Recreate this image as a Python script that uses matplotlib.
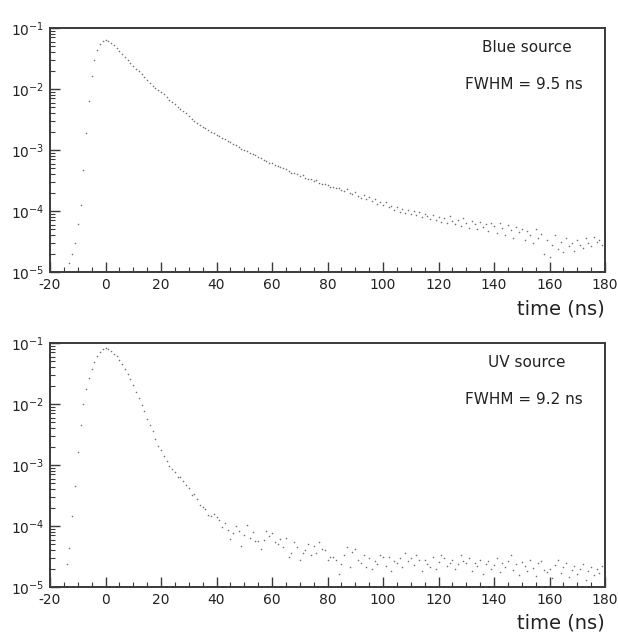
import numpy as np
import matplotlib
matplotlib.use("Agg")
import matplotlib.pyplot as plt
from matplotlib.ticker import MultipleLocator, LogLocator

plt.rcParams['font.family'] = ['DejaVu Sans']
plt.rcParams['axes.unicode_minus'] = False

# time bins (ns), 1 ns wide
t_blue = np.arange(-13, 181)
t_uv = np.arange(-14, 181)

# log10 of the normalised counts
logy_blue = [
    -4.85, -4.70, -4.52, -4.22, -3.90, -3.32, -2.72, -2.20, -1.79, -1.52,
    -1.36, -1.26, -1.21, -1.20, -1.21, -1.24, -1.28, -1.33, -1.37, -1.42,
    -1.48, -1.53, -1.57, -1.62, -1.67, -1.71, -1.76, -1.80, -1.86, -1.90,
    -1.95, -1.99, -2.02, -2.05, -2.08, -2.13, -2.18, -2.22, -2.25, -2.29,
    -2.33, -2.36, -2.40, -2.45, -2.49, -2.52, -2.55, -2.59, -2.62, -2.64,
    -2.67, -2.70, -2.72, -2.75, -2.77, -2.80, -2.82, -2.85, -2.87, -2.90,
    -2.92, -2.95, -2.98, -3.00, -3.01, -3.05, -3.07, -3.09, -3.12, -3.13,
    -3.16, -3.18, -3.21, -3.22, -3.24, -3.27, -3.28, -3.30, -3.31, -3.34,
    -3.37, -3.38, -3.40, -3.43, -3.41, -3.46, -3.48, -3.47, -3.51, -3.49,
    -3.54, -3.56, -3.55, -3.58, -3.61, -3.60, -3.63, -3.62, -3.66, -3.68,
    -3.64, -3.70, -3.72, -3.69, -3.75, -3.79, -3.74, -3.80, -3.77, -3.84,
    -3.81, -3.88, -3.86, -3.90, -3.85, -3.94, -3.91, -3.98, -3.93, -4.01,
    -3.96, -4.03, -3.99, -4.05, -4.00, -4.07, -4.02, -4.10, -4.05, -4.08,
    -4.13, -4.06, -4.15, -4.10, -4.18, -4.12, -4.20, -4.09, -4.16, -4.22,
    -4.14, -4.25, -4.12, -4.19, -4.28, -4.16, -4.22, -4.30, -4.18, -4.26,
    -4.21, -4.33, -4.19, -4.24, -4.36, -4.20, -4.28, -4.40, -4.23, -4.31,
    -4.45, -4.27, -4.35, -4.29, -4.48, -4.33, -4.40, -4.52, -4.30, -4.44,
    -4.38, -4.70, -4.47, -4.75, -4.55, -4.40, -4.62, -4.50, -4.68, -4.45,
    -4.58, -4.52, -4.65, -4.48, -4.56, -4.60, -4.45, -4.53, -4.58, -4.42,
    -4.50, -4.47, -4.55, -4.44,
]

logy_uv = [
    -4.62, -4.36, -3.83, -3.34, -2.78, -2.34, -2.00, -1.76, -1.57, -1.42,
    -1.31, -1.21, -1.15, -1.10, -1.09, -1.10, -1.13, -1.18, -1.22, -1.28,
    -1.35, -1.43, -1.50, -1.59, -1.69, -1.80, -1.90, -2.02, -2.12, -2.24,
    -2.34, -2.45, -2.57, -2.69, -2.76, -2.86, -2.94, -3.01, -3.06, -3.12,
    -3.19, -3.20, -3.26, -3.33, -3.38, -3.49, -3.47, -3.55, -3.66, -3.69,
    -3.72, -3.82, -3.84, -3.80, -3.85, -3.90, -4.01, -3.95, -4.06, -4.22,
    -4.12, -4.00, -4.08, -4.33, -4.15, -3.98, -4.19, -4.10, -4.24, -4.25,
    -4.37, -4.23, -4.09, -4.16, -4.12, -4.27, -4.30, -4.22, -4.34, -4.20,
    -4.51, -4.45, -4.27, -4.35, -4.55, -4.45, -4.39, -4.30, -4.48, -4.33,
    -4.45, -4.26, -4.37, -4.40, -4.55, -4.50, -4.51, -4.56, -4.78, -4.62,
    -4.48, -4.34, -4.67, -4.42, -4.38, -4.55, -4.61, -4.48, -4.67, -4.52,
    -4.70, -4.58, -4.63, -4.47, -4.50, -4.66, -4.50, -4.73, -4.57, -4.61,
    -4.53, -4.68, -4.45, -4.58, -4.52, -4.64, -4.48, -4.55, -4.73, -4.56,
    -4.62, -4.67, -4.51, -4.70, -4.59, -4.47, -4.53, -4.66, -4.61, -4.55,
    -4.70, -4.63, -4.48, -4.57, -4.61, -4.52, -4.73, -4.60, -4.66, -4.55,
    -4.78, -4.62, -4.58, -4.70, -4.64, -4.52, -4.75, -4.60, -4.68, -4.57,
    -4.48, -4.72, -4.63, -4.80, -4.59, -4.66, -4.74, -4.55, -4.69, -4.82,
    -4.61, -4.58, -4.72, -4.75, -4.70, -4.85, -4.64, -4.56, -4.77, -4.68,
    -4.60, -4.83, -4.72, -4.66, -4.79, -4.70, -4.62, -4.88, -4.74, -4.68,
    -4.80, -4.71, -4.77, -4.65, -4.73,
]

labels_blue = ['Blue source', 'FWHM = 9.5 ns']
labels_uv = ['UV source', 'FWHM = 9.2 ns']

W, H = 618, 635
fig = plt.figure(figsize=(W / 100, H / 100), dpi=100)

frame_col = '#3a3a3a'


def make_panel(rect, t, logy, labels):
    ax = fig.add_axes(rect)
    ax.plot(t, 10 ** np.array(logy), linestyle='none', marker='o',
            markersize=1.15, markeredgewidth=0, color='0.45')
    ax.set_yscale('log')
    ax.set_xlim(-20, 180)
    ax.set_ylim(1e-5, 1e-1)
    ax.xaxis.set_major_locator(MultipleLocator(20))
    ax.xaxis.set_minor_locator(MultipleLocator(5))
    ax.yaxis.set_major_locator(LogLocator(base=10, numticks=10))
    ax.yaxis.set_minor_locator(LogLocator(base=10, subs=np.arange(2, 10), numticks=10))
    ax.tick_params(which='both', direction='in', color=frame_col,
                   top=False, right=False)
    ax.tick_params(which='major', length=7, width=1.0, labelsize=10, pad=4,
                   labelcolor='#222222')
    ax.tick_params(which='minor', length=3.5, width=0.8)
    for s in ax.spines.values():
        s.set_color(frame_col)
        s.set_linewidth(1.4)
    ax.text(0.859, 0.922, labels[0], transform=ax.transAxes,
            ha='center', va='center', fontsize=11, color='#222222')
    ax.text(0.854, 0.770, labels[1], transform=ax.transAxes,
            ha='center', va='center', fontsize=11, color='#222222')
    return ax


left = 50 / W
width = 555 / W
height = 244 / H

ax1 = make_panel([left, 1 - 272 / H, width, height], t_blue, logy_blue, labels_blue)
ax2 = make_panel([left, 1 - 587 / H, width, height], t_uv, logy_uv, labels_uv)

fig.text(605 / W, 1 - 309 / H, 'time (ns)', ha='right', va='center', fontsize=14,
         color='#222222')
fig.text(605 / W, 1 - 623 / H, 'time (ns)', ha='right', va='center', fontsize=14,
         color='#222222')

fig.savefig('out.png', dpi=100)
